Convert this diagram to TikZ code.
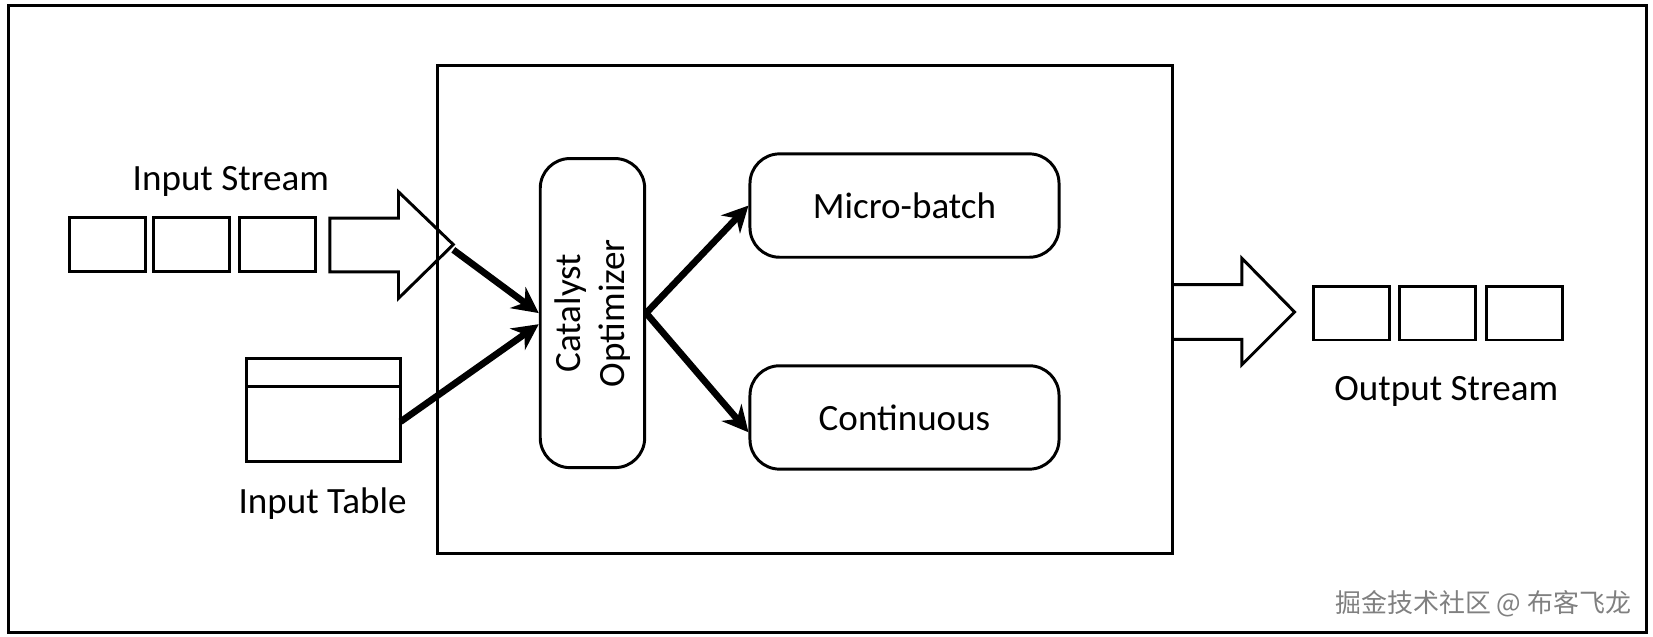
\documentclass[tikz,border=0pt]{standalone}
\usepackage{fontspec}
\setmainfont{Carlito}
\newfontfamily\cjk{Noto Sans CJK SC}
\usetikzlibrary{arrows.meta}
\begin{document}
\begin{tikzpicture}[x=0.01cm,y=-0.01cm,
  cell/.style={draw,thick,minimum width=0.72cm,minimum height=0.51cm,inner sep=0pt},
  mode/.style={draw,thick,rounded corners=8pt,minimum width=2.93cm,minimum height=0.98cm,font=\fontsize{10}{12}\selectfont},
  flow/.style={-{Stealth[length=7pt,width=7pt]},line width=1.8pt},
  lbl/.style={font=\fontsize{10}{12}\selectfont}]
\useasboundingbox (0,0) rectangle (1568,604);
\draw[thick] (8,5) rectangle (1562,600);
\draw[thick] (415,62) rectangle (1112,525);

% input stream
\foreach \x/\n in {102/a,182/b,263/c}
  \node[cell] (in\n) at (\x,232) {};
\draw[thick] (313,207) -- (378,207) -- (378,182) -- (430,232) coordinate (intip)
  -- (378,283) -- (378,258) -- (313,258) -- cycle;
\node[lbl] (instream) at (219,172) {Input Stream};

% input table
\node[draw,thick,minimum width=1.46cm,minimum height=0.98cm,inner sep=0pt] (table) at (307,389) {};
\draw[thick] (234,367) -- (380,367);
\node[lbl] (intable) at (306,478) {Input Table};

% optimizer and modes
\node[draw,thick,rounded corners=8pt,minimum width=0.99cm,minimum height=2.93cm] (cat) at (562,297) {};
\node[lbl,rotate=90,align=center] at (cat) {Catalyst\\Optimizer};
\node[mode] (micro) at (858,195) {Micro-batch};
\node[mode] (cont) at (858,396) {Continuous};

\coordinate (tabout) at (380,400);
\draw[flow] (intip) ++(0,5) -- (cat.west);
\draw[flow] (tabout) -- ([yshift=-3pt]cat.west);
\draw[flow] (cat.east) -- (micro.west);
\draw[flow] (cat.east) -- ([yshift=-4pt]cont.west);

% output stream
\draw[thick] (1112,270) -- (1178,270) -- (1178,245) -- (1228,296)
  -- (1178,346) -- (1178,322) -- (1112,322);
\foreach \x/\n in {1282/a,1364/b,1446/c}
  \node[cell] (out\n) at (\x,297) {};
\node[lbl] (outstream) at (1372,371) {Output Stream};

\node[text=gray,anchor=east,inner sep=0pt,font=\cjk\fontsize{7}{9}\selectfont] (mark) at (1548,573) {掘金技术社区 @ 布客飞龙};
\end{tikzpicture}
\end{document}
